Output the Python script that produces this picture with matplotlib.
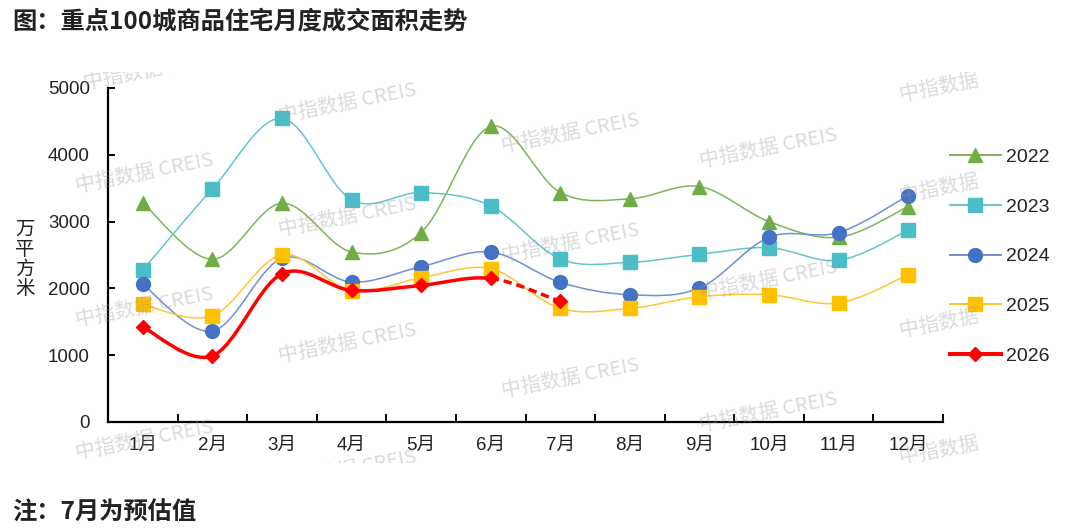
import matplotlib
matplotlib.use('Agg')
import matplotlib.pyplot as plt
from matplotlib.path import Path
from matplotlib.patches import PathPatch
from matplotlib.lines import Line2D
import numpy as np

# ---------------- data ----------------
months = [f"{i}月" for i in range(1, 13)]
years = ['2022', '2023', '2024', '2025', '2026']
v2022 = [3280, 2435, 3275, 2545, 2835, 4425, 3435, 3340, 3525, 3000, 2765, 3225]
v2023 = [2275, 3490, 4545, 3325, 3435, 3235, 2440, 2390, 2510, 2610, 2420, 2870]
v2024 = [2060, 1360, 2450, 2095, 2325, 2545, 2090, 1905, 2005, 2765, 2835, 3390]
v2025 = [1760, 1590, 2505, 1965, 2160, 2295, 1700, 1700, 1875, 1905, 1780, 2205]
v2026 = [1420, 990, 2220, 1970, 2045, 2150, 1805]   # 7月为预估值
yticks = [0, 1000, 2000, 3000, 4000, 5000]

title = "图：重点100城商品住宅月度成交面积走势"
note = "注：7月为预估值"
ylabel = "万平方米"
watermark = "中指数据 CREIS"

CJK = 'Noto Sans CJK SC'
MIX = ['Liberation Sans', 'Noto Sans CJK SC', 'DejaVu Sans']
plt.rcParams['font.family'] = MIX

styles = {
    '2022': dict(line='#7DB55A', mk='#70AD47', marker='^', ms=10.5, lw=1.1),
    '2023': dict(line='#62C6CE', mk='#4BBDC6', marker='s', ms=9.5, lw=1.1),
    '2024': dict(line='#6E91D3', mk='#4472C4', marker='o', ms=10, lw=1.1),
    '2025': dict(line='#FFC633', mk='#FFC000', marker='s', ms=9.5, lw=1.1),
    '2026': dict(line='#FF0000', mk='#FF0000', marker='D', ms=7, lw=2.5),
}
series = {'2022': v2022, '2023': v2023, '2024': v2024, '2025': v2025, '2026': v2026}


def smooth_path(xs, ys, i0, i1):
    pts = np.column_stack([xs, ys]).astype(float)
    n = len(pts)
    verts = [pts[i0]]
    codes = [Path.MOVETO]
    for i in range(i0, i1):
        p0 = pts[max(i - 1, 0)]
        p1 = pts[i]
        p2 = pts[i + 1]
        p3 = pts[min(i + 2, n - 1)]
        c1 = p1 + (p2 - p0) / 6.0
        c2 = p2 - (p3 - p1) / 6.0
        verts += [c1, c2, p2]
        codes += [Path.CURVE4] * 3
    return Path(verts, codes)


W, H = 1080, 532
fig = plt.figure(figsize=(W / 100, H / 100), dpi=100)
ax = fig.add_axes([108 / W, 1 - 422 / H, (943 - 108) / W, (422 - 88) / H])

for yr in years:
    vals = series[yr]
    st = styles[yr]
    xs = np.arange(1, len(vals) + 1)
    z = 5 if yr == '2026' else 3
    if yr == '2026':
        p_solid = smooth_path(xs, vals, 0, len(vals) - 2)
        ax.add_patch(PathPatch(p_solid, fill=False, edgecolor=st['line'], lw=st['lw'],
                               zorder=z, capstyle='round', joinstyle='round'))
        p_dash = smooth_path(xs, vals, len(vals) - 2, len(vals) - 1)
        ax.add_patch(PathPatch(p_dash, fill=False, edgecolor=st['line'], lw=st['lw'],
                               linestyle=(0, (2.4, 1.4)), zorder=z))
    else:
        p = smooth_path(xs, vals, 0, len(vals) - 1)
        ax.add_patch(PathPatch(p, fill=False, edgecolor=st['line'], lw=st['lw'], zorder=z))
    ax.plot(xs, vals, linestyle='none', marker=st['marker'], ms=st['ms'],
            mfc=st['mk'], mec=st['mk'], zorder=z + 0.5)

ax.set_xlim(0.5, 12.5)
ax.set_ylim(0, 5000)
ax.set_yticks(yticks)
ax.set_yticklabels([str(v) for v in yticks])
ax.set_xticks(np.arange(1, 13))
ax.set_xticklabels(months)
ax.set_xticks(np.arange(0.5, 13, 1), minor=True)
ax.tick_params(axis='x', which='major', length=0, pad=11, labelsize=13.5, labelcolor='#222222')
ax.tick_params(axis='x', which='minor', direction='in', length=6, width=1.4, color='black')
ax.tick_params(axis='y', which='major', direction='in', length=5, width=1.4, pad=13,
               labelsize=13.5, labelcolor='#222222')
for s in ['top', 'right']:
    ax.spines[s].set_visible(False)
for s in ['left', 'bottom']:
    ax.spines[s].set_linewidth(1.6)
    ax.spines[s].set_color('black')

# y label stacked vertically
fig.text(25 / W, 1 - 259 / H, "\n".join(ylabel), family=CJK, fontsize=14,
         ha='center', va='center', linespacing=0.92, color='#222222')

# title & note
fig.text(12 / W, 1 - 22 / H, title, family=CJK, fontsize=17.5, fontweight='bold',
         ha='left', va='center', color='#222222')
fig.text(12 / W, 1 - 513 / H, note, family=CJK, fontsize=17.5, fontweight='bold',
         ha='left', va='center', color='#222222')

# legend
handles = []
for yr in years:
    st = styles[yr]
    handles.append(Line2D([0], [0], color=st['line'], lw=st['lw'] + (0.4 if yr == '2026' else 0.3),
                          marker=st['marker'], ms=st['ms'], mfc=st['mk'], mec=st['mk']))
fig.legend(handles, years, loc='upper left', bbox_to_anchor=(950 / W, 1 - 148 / H),
           frameon=False, borderpad=0, borderaxespad=0, handlelength=2.6,
           handletextpad=0.3, labelspacing=1.66, fontsize=14, labelcolor='#222222')

# watermarks
wax = fig.add_axes([70 / W, 1 - 463 / H, (982 - 70) / W, (463 - 72) / H], zorder=10)
wax.set_xlim(70, 982)
wax.set_ylim(463, 72)
wax.axis('off')
wm_pos = [(152, 70), (144, 173), (144, 307), (144, 440),
          (347, 103), (347, 217), (347, 343), (347, 470),
          (570, 133), (570, 243), (570, 378),
          (768, 148), (768, 280), (768, 412),
          (968, 82), (968, 183), (968, 318), (968, 445)]
for (x, y) in wm_pos:
    wax.text(x, y, watermark, family=CJK, fontsize=14.5, fontweight='medium', rotation=11,
             ha='center', va='center', color='#9a9a9a', alpha=0.36, clip_on=True,
             rotation_mode='anchor')

fig.savefig('out.png', dpi=100)
